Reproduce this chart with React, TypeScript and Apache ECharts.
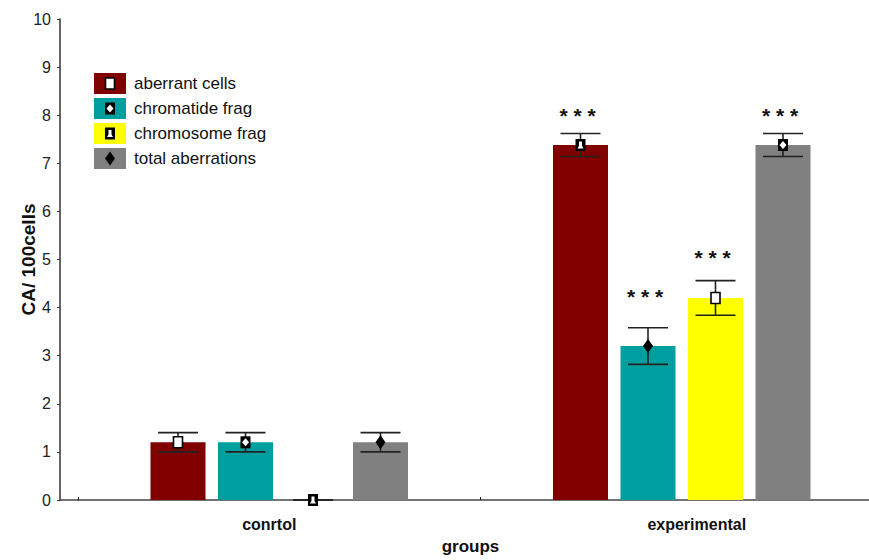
import React, { useEffect, useRef } from "react";
import * as echarts from "echarts";

const groups = ["conrtol", "experimental"];
const seriesNames = ["aberrant cells", "chromatide frag", "chromosome frag", "total aberrations"];
const seriesColors = ["#800000", "#009F9F", "#FFFF00", "#808080"];

const aberrantCells = [1.2, 7.38];
const chromatideFrag = [1.2, 3.2];
const chromosomeFrag = [0, 4.2];
const totalAberrations = [1.2, 7.38];

const aberrantErr = [0.2, 0.24];
const chromatideErr = [0.2, 0.38];
const chromosomeErr = [0, 0.36];
const totalErr = [0.2, 0.24];

const sigText = ["", "* * *"];
const aberrantSigY = [-1, 8.07];
const chromatideSigY = [-1, 4.32];
const chromosomeSigY = [-1, 5.13];
const totalSigY = [-1, 8.07];

const markerTypes = ["open", "cross", "notch", "diamond"];
const aberrantMarkers = ["open", "notch"];
const chromatideMarkers = ["cross", "diamond"];
const chromosomeMarkers = ["notch", "open"];
const totalMarkers = ["diamond", "cross"];

const yTicks = { min: 0, max: 10, interval: 1 };

const FONT = "'Liberation Sans', Arial, sans-serif";
const BAR_W = 55;
const BAR_GAP = 12.5;

function markerShapes(type: string, cx: number, cy: number): any[] {
  if (type === "open") {
    return [
      { type: "rect", shape: { x: cx - 4.5, y: cy - 5.5, width: 9, height: 11 }, style: { fill: "#fff", stroke: "#000", lineWidth: 1.6 } },
    ];
  }
  if (type === "cross") {
    return [
      { type: "rect", shape: { x: cx - 5, y: cy - 6, width: 10, height: 12 }, style: { fill: "#000" } },
      { type: "polygon", shape: { points: [[cx, cy - 4], [cx + 3.5, cy], [cx, cy + 4], [cx - 3.5, cy]] }, style: { fill: "#fff" } },
    ];
  }
  if (type === "notch") {
    return [
      { type: "rect", shape: { x: cx - 5, y: cy - 6, width: 10, height: 12 }, style: { fill: "#000" } },
      {
        type: "polygon",
        shape: { points: [[cx - 1.5, cy - 3.5], [cx + 1.5, cy - 3.5], [cx + 1.5, cy + 1], [cx + 3, cy + 3.5], [cx - 3, cy + 3.5], [cx - 1.5, cy + 1]] },
        style: { fill: "#fff" },
      },
    ];
  }
  return [
    { type: "polygon", shape: { points: [[cx, cy - 7], [cx + 5, cy], [cx, cy + 7], [cx - 5, cy]] }, style: { fill: "#000" } },
  ];
}

export default function App() {
  const ref = useRef<HTMLDivElement>(null);

  useEffect(() => {
    if (!ref.current) return;
    const chart = echarts.init(ref.current, null, { renderer: "svg" });

    const values = [aberrantCells, chromatideFrag, chromosomeFrag, totalAberrations];
    const errs = [aberrantErr, chromatideErr, chromosomeErr, totalErr];
    const sigs = [aberrantSigY, chromatideSigY, chromosomeSigY, totalSigY];
    const markers = [aberrantMarkers, chromatideMarkers, chromosomeMarkers, totalMarkers];

    const errData: any[] = [];
    for (let s = 0; s < 4; s++) {
      for (let g = 0; g < groups.length; g++) {
        errData.push([g, values[s][g], errs[s][g], s, sigs[s][g], markerTypes.indexOf(markers[s][g])]);
      }
    }

    const barSeries = seriesNames.map((name, i) => ({
      name,
      type: "bar",
      data: values[i],
      barWidth: BAR_W,
      barGap: (BAR_GAP / BAR_W) * 100 + "%",
      itemStyle: { color: seriesColors[i] },
      z: 2,
    }));

    const legendMarkers: any[] = [];
    markerTypes.forEach((t, i) => {
      legendMarkers.push(...markerShapes(t, 110, 83.5 + i * 25));
    });

    const option: any = {
      animation: false,
      grid: { left: 78, right: -14, top: 19, bottom: 60, outerBoundsMode: "none", containLabel: false },
      legend: {
        data: seriesNames,
        orient: "vertical",
        left: 94,
        top: 73,
        padding: 0,
        itemWidth: 32,
        itemHeight: 21,
        itemGap: 4,
        icon: "rect",
        selectedMode: false,
        textStyle: { fontFamily: FONT, fontSize: 17, color: "#111", padding: [0, 0, 0, 3] },
      },
      xAxis: {
        type: "category",
        data: groups,
        name: "groups",
        nameLocation: "middle",
        nameGap: 38,
        nameTextStyle: { fontFamily: FONT, fontSize: 17, fontWeight: "bold", color: "#111", padding: [0, 20, 0, 0] },
        axisLine: { lineStyle: { color: "#444", width: 1.5 } },
        axisTick: { show: true, inside: true, length: 3, lineStyle: { color: "#222" } },
        axisLabel: {
          margin: 16,
          formatter: (v: string) => (v === groups[0] ? "{a|" + v + "}" : "{b|" + v + "}"),
          rich: {
            a: { fontFamily: FONT, fontSize: 16, fontWeight: "bold", color: "#111", padding: [0, 20, 0, 0] },
            b: { fontFamily: FONT, fontSize: 16, fontWeight: "bold", color: "#111", padding: [0, 0, 0, 30] },
          },
        },
      },
      yAxis: {
        type: "value",
        min: yTicks.min,
        max: yTicks.max,
        interval: yTicks.interval,
        offset: 18,
        name: "CA/ 100cells",
        nameLocation: "middle",
        nameGap: 22,
        nameMoveOverlap: false,
        nameTextStyle: { fontFamily: FONT, fontSize: 19, fontWeight: "bold", color: "#111" },
        splitLine: { show: false },
        axisLine: { show: true, lineStyle: { color: "#333", width: 1.5 } },
        axisTick: { show: true, length: 3, lineStyle: { color: "#333" } },
        axisLabel: { margin: 9, fontFamily: FONT, fontSize: 16, color: "#222" },
      },
      series: [
        ...barSeries,
        {
          type: "custom",
          name: "errors",
          z: 5,
          clip: false,
          encode: { x: 0, y: 1 },
          data: errData,
          renderItem: (params: any, api: any) => {
            const g = api.value(0);
            const v = api.value(1);
            const e = api.value(2);
            const s = api.value(3);
            const sy = api.value(4);
            const mt = markerTypes[api.value(5)];
            const c = api.coord([g, v]);
            const x = c[0] + (s - 1.5) * (BAR_W + BAR_GAP);
            const yTop = api.coord([g, v + e])[1];
            const yBot = api.coord([g, v - e])[1];
            const cap = 20;
            const ls = { stroke: "#222", lineWidth: 1.6 };
            const children: any[] = [
              { type: "line", shape: { x1: x, y1: yTop, x2: x, y2: yBot }, style: ls },
              { type: "line", shape: { x1: x - cap, y1: yTop, x2: x + cap, y2: yTop }, style: ls },
              { type: "line", shape: { x1: x - cap, y1: yBot, x2: x + cap, y2: yBot }, style: ls },
              ...markerShapes(mt, x, c[1]),
            ];
            if (sy > 0) {
              const ty = api.coord([g, sy])[1];
              children.push({
                type: "text",
                x: x - 3,
                y: ty + 4,
                style: {
                  text: sigText[g],
                  fontFamily: FONT,
                  fontSize: 21,
                  fontWeight: "bold",
                  fill: "#111",
                  align: "center",
                  verticalAlign: "middle",
                },
              });
            }
            return { type: "group", children };
          },
        },
      ],
      graphic: [
        { type: "line", shape: { x1: 60, y1: 500, x2: 79, y2: 500 }, style: { stroke: "#444", lineWidth: 1.5 }, z: 10 },
        ...legendMarkers.map((m) => ({ ...m, z: 100 })),
      ],
    };

    chart.setOption(option);
    return () => chart.dispose();
  }, []);

  return (
    <div
      ref={ref}
      style={{ position: "absolute", left: 0, top: 0, width: 869, height: 560 }}
    />
  );
}
